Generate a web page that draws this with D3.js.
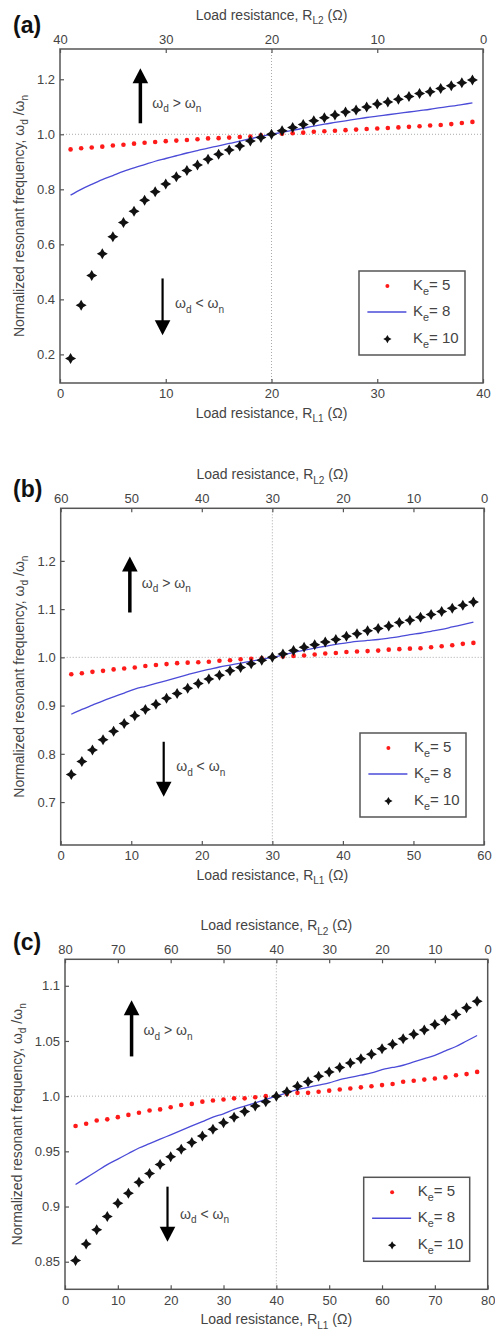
<!DOCTYPE html>
<html>
<head>
<meta charset="utf-8">
<script src="https://cdn.jsdelivr.net/npm/d3@7"></script>
<style>
body { margin: 0; background: #fff; }
svg text { font-family: "Liberation Sans", Arial, sans-serif; fill: #444; }
</style>
</head>
<body>
<svg id="chart" width="495" height="1331"></svg>
<script>
'use strict';

// ---- data ----
// (a) R_total = 40 ohm
let rlA = [1,2,3,4,5,6,7,8,9,10,11,12,13,14,15,16,17,18,19,20,21,22,23,24,25,26,27,28,29,30,31,32,33,34,35,36,37,38,39];
let ke5A = [0.945,0.949,0.952,0.955,0.959,0.962,0.966,0.969,0.972,0.975,0.977,0.979,0.982,0.985,0.986,0.988,0.990,0.992,0.996,1.000,1.002,1.004,1.006,1.009,1.011,1.013,1.015,1.017,1.019,1.021,1.023,1.025,1.027,1.029,1.032,1.034,1.037,1.041,1.045];
let ke8A = [0.779,0.800,0.818,0.835,0.850,0.865,0.878,0.890,0.902,0.912,0.922,0.932,0.941,0.950,0.958,0.967,0.975,0.984,0.992,1.000,1.007,1.014,1.022,1.030,1.037,1.043,1.049,1.055,1.061,1.066,1.071,1.076,1.081,1.086,1.091,1.097,1.102,1.108,1.114];
let ke10A = [0.185,0.379,0.487,0.566,0.628,0.679,0.720,0.760,0.791,0.819,0.846,0.868,0.888,0.909,0.927,0.943,0.957,0.976,0.988,1.000,1.013,1.025,1.036,1.049,1.060,1.070,1.081,1.088,1.099,1.110,1.117,1.127,1.137,1.148,1.155,1.166,1.176,1.187,1.197];

// (b) R_total = 60 ohm
let rlB = [1.5,3,4.5,6,7.5,9,10.5,12,13.5,15,16.5,18,19.5,21,22.5,24,25.5,27,28.5,30,31.5,33,34.5,36,37.5,39,40.5,42,43.5,45,46.5,48,49.5,51,52.5,54,55.5,57,58.5];
let ke5B = [0.965,0.967,0.970,0.972,0.975,0.977,0.979,0.982,0.984,0.986,0.988,0.989,0.990,0.991,0.993,0.994,0.996,0.997,0.998,1.000,1.002,1.003,1.004,1.006,1.008,1.009,1.011,1.012,1.013,1.014,1.016,1.017,1.018,1.019,1.021,1.023,1.025,1.028,1.030];
let ke8B = [0.882,0.892,0.901,0.910,0.918,0.926,0.934,0.940,0.946,0.952,0.958,0.964,0.970,0.975,0.980,0.984,0.988,0.992,0.996,1.000,1.005,1.010,1.015,1.019,1.023,1.027,1.030,1.033,1.035,1.037,1.040,1.043,1.047,1.050,1.054,1.058,1.063,1.068,1.073];
let ke10B = [0.757,0.784,0.808,0.829,0.847,0.863,0.879,0.892,0.903,0.915,0.925,0.936,0.946,0.955,0.963,0.972,0.979,0.987,0.994,1.000,1.007,1.014,1.021,1.026,1.032,1.037,1.044,1.049,1.055,1.060,1.065,1.072,1.077,1.083,1.089,1.095,1.102,1.108,1.115];

// (c) R_total = 80 ohm
let rlC = [2,4,6,8,10,12,14,16,18,20,22,24,26,28,30,32,34,36,38,40,42,44,46,48,50,52,54,56,58,60,62,64,66,68,70,72,74,76,78];
let ke5C = [0.973,0.975,0.978,0.979,0.981,0.983,0.985,0.987,0.988,0.990,0.992,0.993,0.995,0.996,0.997,0.998,0.998,0.999,1.000,1.000,1.002,1.003,1.003,1.004,1.005,1.006,1.007,1.008,1.009,1.010,1.011,1.013,1.014,1.015,1.016,1.017,1.019,1.020,1.022];
let ke8C = [0.920,0.926,0.932,0.938,0.943,0.948,0.953,0.957,0.961,0.965,0.969,0.973,0.977,0.981,0.984,0.988,0.991,0.994,0.997,1.000,1.003,1.006,1.008,1.010,1.012,1.015,1.017,1.019,1.021,1.024,1.026,1.028,1.031,1.034,1.037,1.041,1.045,1.050,1.055];
let ke10C = [0.851,0.866,0.879,0.891,0.903,0.912,0.922,0.930,0.938,0.945,0.952,0.958,0.964,0.970,0.976,0.981,0.986,0.991,0.995,1.000,1.004,1.009,1.013,1.018,1.022,1.026,1.030,1.034,1.038,1.043,1.047,1.052,1.056,1.060,1.065,1.069,1.074,1.080,1.086];

// ticks
let xTicksA = [0,10,20,30,40],
    xTicksB = [0,10,20,30,40,50,60],
    xTicksC = [0,10,20,30,40,50,60,70,80];
let yTicksA = [0.2,0.4,0.6,0.8,1.0,1.2],
    yTicksB = [0.7,0.8,0.9,1.0,1.1,1.2],
    yTicksC = [0.85,0.9,0.95,1.0,1.05,1.1];
let yLabelsA = ['0.2','0.4','0.6','0.8','1.0','1.2'],
    yLabelsB = ['0.7','0.8','0.9','1.0','1.1','1.2'],
    yLabelsC = ['0.85','0.9','0.95','1.0','1.05','1.1'];
let legendNames = ['5','8','10'];

let RED = '#ff1a1a', BLUE = '#4b4bd8', BLACK = '#111', AXIS = '#555';

let panels = [
    {tag: '(a)', tagY: 33, rTot: 40, rl: rlA, k5: ke5A, k8: ke8A, k10: ke10A,
     xTicks: xTicksA, yTicks: yTicksA, yLabels: yLabelsA,
     left: 60, right: 483, top: 49, bottom: 383, yDom: [0.096, 1.31], ylabX: 19,
     up: {x: 7.6, y0: 1.04, y1: 1.24, ty: 1.096}, down: {x: 9.7, y0: 0.476, y1: 0.27, ty: 0.368}},
    {tag: '(b)', tagY: 497, rTot: 60, rl: rlB, k5: ke5B, k8: ke8B, k10: ke10B,
     xTicks: xTicksB, yTicks: yTicksB, yLabels: yLabelsB,
     left: 60.7, right: 484, top: 508.3, bottom: 845, yDom: [0.611, 1.309], ylabX: 19,
     up: {x: 9.8, y0: 1.093, y1: 1.209, ty: 1.144}, down: {x: 14.6, y0: 0.825, y1: 0.711, ty: 0.764}},
    {tag: '(c)', tagY: 950, rTot: 80, rl: rlC, k5: ke5C, k8: ke8C, k10: ke10C,
     xTicks: xTicksC, yTicks: yTicksC, yLabels: yLabelsC,
     left: 65, right: 487.7, top: 959.3, bottom: 1289.3, yDom: [0.825, 1.124], ylabX: 17,
     up: {x: 12.6, y0: 1.036, y1: 1.087, ty: 1.055}, down: {x: 19.4, y0: 0.918, y1: 0.868, ty: 0.889}}
];

let STAR = 'M0,-5.5L2,-2L5.5,0L2,2L0,5.5L-2,2L-5.5,0L-2,-2Z';

let svg = d3.select('#chart');

// text with subscripts: parts = [[str, isSub], ...]
function rich(text, parts, fs) {
    let wasSub = false;
    parts.forEach(function(p) {
        let t = text.append('tspan').text(p[0]);
        if (p[1]) {
            t.attr('font-size', fs * 0.72).attr('dy', fs * 0.32);
            wasSub = true;
        } else if (wasSub) {
            t.attr('dy', -fs * 0.32);
            wasSub = false;
        }
    });
    return text;
}

panels.forEach(drawPanel);

function drawPanel(p) {
    let x = d3.scaleLinear().domain([0, p.rTot]).range([p.left, p.right]),
        x2 = d3.scaleLinear().domain([p.rTot, 0]).range([p.left, p.right]),
        y = d3.scaleLinear().domain(p.yDom).range([p.bottom, p.top]);

    let g = svg.append('g');

    // dotted reference lines
    g.append('line')
        .attr('x1', x(p.rTot / 2)).attr('x2', x(p.rTot / 2))
        .attr('y1', p.top).attr('y2', p.bottom)
        .attr('stroke', '#aaa').attr('stroke-dasharray', '1,2');
    g.append('line')
        .attr('x1', p.left).attr('x2', p.right)
        .attr('y1', y(1)).attr('y2', y(1))
        .attr('stroke', '#aaa').attr('stroke-dasharray', '1,2');

    // Ke = 8 line
    let line = d3.line().curve(d3.curveMonotoneX)
        .x(function(d) { return x(d[0]); }).y(function(d) { return y(d[1]); });
    g.append('path')
        .datum(p.rl.map(function(r, i) { return [r, p.k8[i]]; }))
        .attr('d', line)
        .attr('fill', 'none').attr('stroke', BLUE).attr('stroke-width', 1.3);

    // Ke = 5 dots
    g.append('g').selectAll('circle')
        .data(p.rl.map(function(r, i) { return [r, p.k5[i]]; }))
        .enter().append('circle')
        .attr('cx', function(d) { return x(d[0]); })
        .attr('cy', function(d) { return y(d[1]); })
        .attr('r', 2.3)
        .attr('fill', RED);

    // Ke = 10 stars
    g.append('g').selectAll('path')
        .data(p.rl.map(function(r, i) { return [r, p.k10[i]]; }))
        .enter().append('path')
        .attr('d', STAR)
        .attr('transform', function(d) { return 'translate(' + x(d[0]) + ',' + y(d[1]) + ')'; })
        .attr('fill', BLACK);

    // axes
    let axB = g.append('g').attr('transform', 'translate(0,' + p.bottom + ')')
        .call(d3.axisBottom(x).tickValues(p.xTicks).tickSize(-4).tickSizeOuter(0).tickPadding(6));
    let axT = g.append('g').attr('transform', 'translate(0,' + p.top + ')')
        .call(d3.axisTop(x2).tickValues(p.xTicks).tickSize(-4).tickSizeOuter(0).tickPadding(5));
    let axL = g.append('g').attr('transform', 'translate(' + p.left + ',0)')
        .call(d3.axisLeft(y).tickValues(p.yTicks).tickSize(-4).tickSizeOuter(0).tickPadding(5)
            .tickFormat(function(d, i) { return p.yLabels[i]; }));
    [axB, axT, axL].forEach(function(a) {
        a.select('.domain').remove();
        a.attr('font-family', null).attr('font-size', 13);
        a.selectAll('line').attr('stroke', AXIS).attr('stroke-width', 1.2);
    });

    g.append('rect')
        .attr('x', p.left).attr('y', p.top)
        .attr('width', p.right - p.left).attr('height', p.bottom - p.top)
        .attr('fill', 'none').attr('stroke', AXIS).attr('stroke-width', 1.5);

    // axis titles
    let cx = (p.left + p.right) / 2;
    rich(g.append('text').attr('x', cx).attr('y', p.bottom + 35).attr('text-anchor', 'middle').attr('font-size', 14),
        [['Load resistance, R'], ['L1', true], [' (\u03A9)']], 14);
    rich(g.append('text').attr('x', cx).attr('y', p.top - 29).attr('text-anchor', 'middle').attr('font-size', 14),
        [['Load resistance, R'], ['L2', true], [' (\u03A9)']], 14);
    rich(g.append('text')
            .attr('transform', 'translate(' + (p.ylabX + 5) + ',' + ((p.top + p.bottom) / 2) + ') rotate(-90)')
            .attr('text-anchor', 'middle').attr('font-size', 14),
        [['Normalized resonant frequency, \u03C9'], ['d', true], [' /\u03C9'], ['n', true]], 14);

    g.append('text').attr('x', 13).attr('y', p.tagY)
        .attr('font-size', 23).attr('font-weight', 'bold').style('fill', '#111')
        .text(p.tag);

    // arrows
    drawArrow(g, x(p.up.x), y(p.up.y0), y(p.up.y1), 3.5);
    drawArrow(g, x(p.down.x), y(p.down.y0), y(p.down.y1), 2.2);
    rich(g.append('text').attr('x', x(p.up.x) + 12).attr('y', y(p.up.ty)).attr('font-size', 14),
        [['\u03C9'], ['d', true], [' > \u03C9'], ['n', true]], 14);
    rich(g.append('text').attr('x', x(p.down.x) + 12.5).attr('y', y(p.down.ty)).attr('font-size', 14),
        [['\u03C9'], ['d', true], [' < \u03C9'], ['n', true]], 14);

    // legend
    let lw = 106, lh = 84,
        lx = p.right - 18 - lw, ly = p.bottom - 28 - lh;
    let lg = g.append('g').attr('transform', 'translate(' + lx + ',' + ly + ')');
    lg.append('rect').attr('width', lw).attr('height', lh)
        .attr('fill', '#fff').attr('stroke', AXIS).attr('stroke-width', 1.5);
    let rows = [15, 41, 68];
    lg.append('circle').attr('cx', 28.4).attr('cy', rows[0]).attr('r', 2).attr('fill', RED);
    lg.append('line').attr('x1', 8.4).attr('x2', 47.4).attr('y1', rows[1]).attr('y2', rows[1])
        .attr('stroke', BLUE).attr('stroke-width', 1.5);
    lg.append('path').attr('d', STAR).attr('fill', BLACK)
        .attr('transform', 'translate(28.4,' + rows[2] + ') scale(0.75)');
    legendNames.forEach(function(n, i) {
        rich(lg.append('text').attr('x', 54).attr('y', rows[i] + 4).attr('font-size', 15),
            [['K'], ['e', true], ['= ' + n]], 15);
    });
}

function drawArrow(g, ax, y0, y1, w) {
    let dir = y1 < y0 ? 1 : -1,
        head = 15, half = 7.8;
    g.append('line')
        .attr('x1', ax).attr('x2', ax)
        .attr('y1', y0).attr('y2', y1 + dir * (head - 2))
        .attr('stroke', '#000').attr('stroke-width', w);
    g.append('path')
        .attr('d', 'M' + ax + ',' + y1 + 'L' + (ax + half) + ',' + (y1 + dir * head) + 'L' + (ax - half) + ',' + (y1 + dir * head) + 'Z')
        .attr('fill', '#000');
}
</script>
</body>
</html>
